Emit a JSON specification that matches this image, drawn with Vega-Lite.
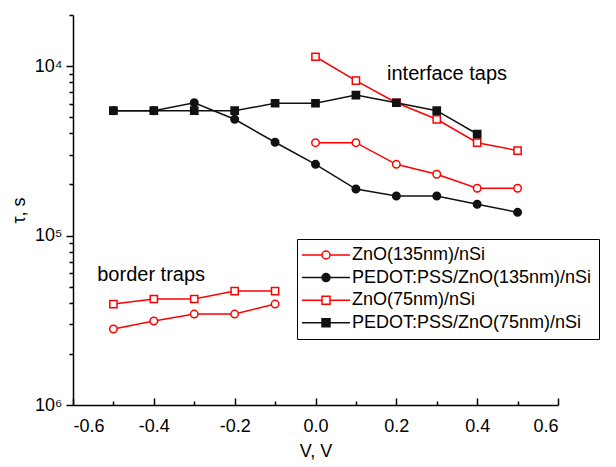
{
  "$schema": "https://vega.github.io/schema/vega-lite/v6.json",
  "width": 485,
  "height": 390,
  "autosize": {"type": "none"},
  "padding": {"left": 73, "top": 15, "right": 58, "bottom": 62},
  "config": {
    "font": "Liberation Sans",
    "view": {"stroke": null},
    "axis": {
      "grid": false,
      "domainColor": "black",
      "domainWidth": 1.5,
      "tickColor": "black",
      "tickWidth": 1.5,
      "labelColor": "black",
      "labelFontSize": 18,
      "labelFont": "Liberation Sans",
      "titleColor": "black",
      "titleFontSize": 18,
      "titleFontWeight": "normal",
      "titleFont": "Liberation Sans",
      "labelOverlap": false
    },
    "legend": {
      "orient": "none", "legendX": 224, "legendY": 224, "title": null,
      "strokeColor": "black", "fillColor": "white", "padding": 7,
      "symbolSize": 64, "symbolStrokeWidth": 1.5, "symbolOffset": 13, "symbolOpacity": 1,
      "labelOffset": 17, "labelFontSize": 18, "labelColor": "black", "labelFont": "Liberation Sans",
      "rowPadding": 4.6, "labelLimit": 400
    }
  },
  "data": {
    "values": [
      {"V": -0.5, "tau": 2.81e-6, "series": "ZnO(135nm)/nSi", "seg": "border"},
      {"V": -0.4, "tau": 3.13e-6, "series": "ZnO(135nm)/nSi", "seg": "border"},
      {"V": -0.3, "tau": 3.44e-6, "series": "ZnO(135nm)/nSi", "seg": "border"},
      {"V": -0.2, "tau": 3.44e-6, "series": "ZnO(135nm)/nSi", "seg": "border"},
      {"V": -0.1, "tau": 3.94e-6, "series": "ZnO(135nm)/nSi", "seg": "border"},
      {"V": 0.0, "tau": 3.53e-5, "series": "ZnO(135nm)/nSi", "seg": "interface"},
      {"V": 0.1, "tau": 3.53e-5, "series": "ZnO(135nm)/nSi", "seg": "interface"},
      {"V": 0.2, "tau": 2.63e-5, "series": "ZnO(135nm)/nSi", "seg": "interface"},
      {"V": 0.3, "tau": 2.30e-5, "series": "ZnO(135nm)/nSi", "seg": "interface"},
      {"V": 0.4, "tau": 1.90e-5, "series": "ZnO(135nm)/nSi", "seg": "interface"},
      {"V": 0.5, "tau": 1.90e-5, "series": "ZnO(135nm)/nSi", "seg": "interface"},
      {"V": -0.5, "tau": 5.45e-5, "series": "PEDOT:PSS/ZnO(135nm)/nSi", "seg": "all"},
      {"V": -0.4, "tau": 5.45e-5, "series": "PEDOT:PSS/ZnO(135nm)/nSi", "seg": "all"},
      {"V": -0.3, "tau": 6.07e-5, "series": "PEDOT:PSS/ZnO(135nm)/nSi", "seg": "all"},
      {"V": -0.2, "tau": 4.85e-5, "series": "PEDOT:PSS/ZnO(135nm)/nSi", "seg": "all"},
      {"V": -0.1, "tau": 3.55e-5, "series": "PEDOT:PSS/ZnO(135nm)/nSi", "seg": "all"},
      {"V": 0.0, "tau": 2.63e-5, "series": "PEDOT:PSS/ZnO(135nm)/nSi", "seg": "all"},
      {"V": 0.1, "tau": 1.88e-5, "series": "PEDOT:PSS/ZnO(135nm)/nSi", "seg": "all"},
      {"V": 0.2, "tau": 1.71e-5, "series": "PEDOT:PSS/ZnO(135nm)/nSi", "seg": "all"},
      {"V": 0.3, "tau": 1.71e-5, "series": "PEDOT:PSS/ZnO(135nm)/nSi", "seg": "all"},
      {"V": 0.4, "tau": 1.53e-5, "series": "PEDOT:PSS/ZnO(135nm)/nSi", "seg": "all"},
      {"V": 0.5, "tau": 1.37e-5, "series": "PEDOT:PSS/ZnO(135nm)/nSi", "seg": "all"},
      {"V": -0.5, "tau": 3.94e-6, "series": "ZnO(75nm)/nSi", "seg": "border"},
      {"V": -0.4, "tau": 4.22e-6, "series": "ZnO(75nm)/nSi", "seg": "border"},
      {"V": -0.3, "tau": 4.22e-6, "series": "ZnO(75nm)/nSi", "seg": "border"},
      {"V": -0.2, "tau": 4.70e-6, "series": "ZnO(75nm)/nSi", "seg": "border"},
      {"V": -0.1, "tau": 4.70e-6, "series": "ZnO(75nm)/nSi", "seg": "border"},
      {"V": 0.0, "tau": 1.134e-4, "series": "ZnO(75nm)/nSi", "seg": "interface"},
      {"V": 0.1, "tau": 8.19e-5, "series": "ZnO(75nm)/nSi", "seg": "interface"},
      {"V": 0.2, "tau": 6.07e-5, "series": "ZnO(75nm)/nSi", "seg": "interface"},
      {"V": 0.3, "tau": 4.85e-5, "series": "ZnO(75nm)/nSi", "seg": "interface"},
      {"V": 0.4, "tau": 3.53e-5, "series": "ZnO(75nm)/nSi", "seg": "interface"},
      {"V": 0.5, "tau": 3.17e-5, "series": "ZnO(75nm)/nSi", "seg": "interface"},
      {"V": -0.5, "tau": 5.45e-5, "series": "PEDOT:PSS/ZnO(75nm)/nSi", "seg": "all"},
      {"V": -0.4, "tau": 5.45e-5, "series": "PEDOT:PSS/ZnO(75nm)/nSi", "seg": "all"},
      {"V": -0.3, "tau": 5.45e-5, "series": "PEDOT:PSS/ZnO(75nm)/nSi", "seg": "all"},
      {"V": -0.2, "tau": 5.45e-5, "series": "PEDOT:PSS/ZnO(75nm)/nSi", "seg": "all"},
      {"V": -0.1, "tau": 6.03e-5, "series": "PEDOT:PSS/ZnO(75nm)/nSi", "seg": "all"},
      {"V": 0.0, "tau": 6.03e-5, "series": "PEDOT:PSS/ZnO(75nm)/nSi", "seg": "all"},
      {"V": 0.1, "tau": 6.74e-5, "series": "PEDOT:PSS/ZnO(75nm)/nSi", "seg": "all"},
      {"V": 0.2, "tau": 6.07e-5, "series": "PEDOT:PSS/ZnO(75nm)/nSi", "seg": "all"},
      {"V": 0.3, "tau": 5.45e-5, "series": "PEDOT:PSS/ZnO(75nm)/nSi", "seg": "all"},
      {"V": 0.4, "tau": 3.97e-5, "series": "PEDOT:PSS/ZnO(75nm)/nSi", "seg": "all"}
    ]
  },
  "resolve": {"axis": {"x": "independent", "y": "independent"}},
  "layer": [
    {
      "mark": {"type": "line", "strokeWidth": 1.5},
      "encoding": {
        "x": {
          "field": "V", "type": "quantitative",
          "scale": {"domain": [-0.6, 0.6], "nice": false, "zero": false},
          "axis": {
            "orient": "bottom",
            "title": "V, V",
            "values": [-0.6, -0.4, -0.2, 0, 0.2, 0.4, 0.6],
            "labelExpr": "(datum.value < -0.001 ? '-' : '') + format(abs(datum.value), '.1f')",
            "tickSize": -7,
            "labelPadding": 19,
            "titlePadding": 7
          }
        },
        "y": {
          "field": "tau", "type": "quantitative",
          "scale": {"type": "log", "domain": [0.000001, 0.0002], "nice": false},
          "axis": {
            "orient": "left",
            "title": "τ, s",
            "values": [0.000001, 0.00001, 0.0001],
            "labelExpr": "'10' + (round(-log(datum.value)/LN10) == 4 ? '⁴' : round(-log(datum.value)/LN10) == 5 ? '⁵' : '⁶')",
            "tickSize": 7,
            "labelPadding": 4,
            "titlePadding": 6
          }
        },
        "stroke": {
          "field": "series", "type": "nominal",
          "scale": {
            "domain": ["ZnO(135nm)/nSi", "PEDOT:PSS/ZnO(135nm)/nSi", "ZnO(75nm)/nSi", "PEDOT:PSS/ZnO(75nm)/nSi"],
            "range": ["#ff0000", "#111111", "#ff0000", "#111111"]
          }
        },
        "detail": {"field": "seg", "type": "nominal"}
      }
    },
    {
      "transform": [{"filter": "indexof(datum.series, '135nm') >= 0"}],
      "mark": {"type": "point", "shape": "circle", "size": 56, "strokeWidth": 1.5, "opacity": 1},
      "encoding": {
        "x": {
          "field": "V", "type": "quantitative",
          "axis": {
            "orient": "bottom", "title": null, "labels": false, "domain": false,
            "values": [-0.5, -0.3, -0.1, 0.1, 0.3, 0.5],
            "tickSize": -4
          }
        },
        "y": {
          "field": "tau", "type": "quantitative",
          "axis": {
            "orient": "left", "title": null, "labels": false, "domain": false,
            "values": [0.000002, 0.000003, 0.000004, 0.000005, 0.000006, 0.000007, 0.000008, 0.000009, 0.00002, 0.00003, 0.00004, 0.00005, 0.00006, 0.00007, 0.00008, 0.00009, 0.0002],
            "tickSize": 4
          }
        },
        "stroke": {"field": "series", "type": "nominal"},
        "fill": {
          "field": "series", "type": "nominal",
          "scale": {
            "domain": ["ZnO(135nm)/nSi", "PEDOT:PSS/ZnO(135nm)/nSi", "ZnO(75nm)/nSi", "PEDOT:PSS/ZnO(75nm)/nSi"],
            "range": ["#ffffff", "#111111", "#ffffff", "#111111"]
          }
        }
      }
    },
    {
      "transform": [{"filter": "indexof(datum.series, '75nm') >= 0"}],
      "mark": {"type": "point", "shape": "square", "size": 52, "strokeWidth": 1.5, "opacity": 1},
      "encoding": {
        "x": {"field": "V", "type": "quantitative", "axis": null},
        "y": {"field": "tau", "type": "quantitative", "axis": null},
        "stroke": {"field": "series", "type": "nominal"},
        "fill": {"field": "series", "type": "nominal"}
      }
    },
    {
      "transform": [{"filter": "datum.V > 100"}],
      "mark": {"type": "point", "size": 56, "strokeWidth": 1.5, "opacity": 1},
      "encoding": {
        "x": {"field": "V", "type": "quantitative", "axis": null},
        "y": {"field": "tau", "type": "quantitative", "axis": null},
        "stroke": {"field": "series", "type": "nominal"},
        "fill": {"field": "series", "type": "nominal"},
        "shape": {
          "field": "series", "type": "nominal",
          "scale": {
            "domain": ["ZnO(135nm)/nSi", "PEDOT:PSS/ZnO(135nm)/nSi", "ZnO(75nm)/nSi", "PEDOT:PSS/ZnO(75nm)/nSi"],
            "range": ["M-6,0H-1M1,0H6M-1,0A1,1,0,1,0,1,0A1,1,0,1,0,-1,0Z", "M-6,0H-1M1,0H6M-1,0A1,1,0,1,0,1,0A1,1,0,1,0,-1,0Z", "M-6,0H-1M1,0H6M-1,-1H1V1H-1Z", "M-6,0H-1M1,0H6M-1,-1H1V1H-1Z"]
          }
        }
      }
    },
    {
      "data": {
        "values": [
          {"V": 0.177, "tau": 0.00009, "label": "interface taps"},
          {"V": -0.54, "tau": 0.00000585, "label": "border traps"}
        ]
      },
      "mark": {"type": "text", "align": "left", "baseline": "middle", "fontSize": 20, "font": "Liberation Sans", "color": "black"},
      "encoding": {
        "x": {"field": "V", "type": "quantitative", "axis": null},
        "y": {"field": "tau", "type": "quantitative", "axis": null},
        "text": {"field": "label", "type": "nominal"}
      }
    }
  ]
}
